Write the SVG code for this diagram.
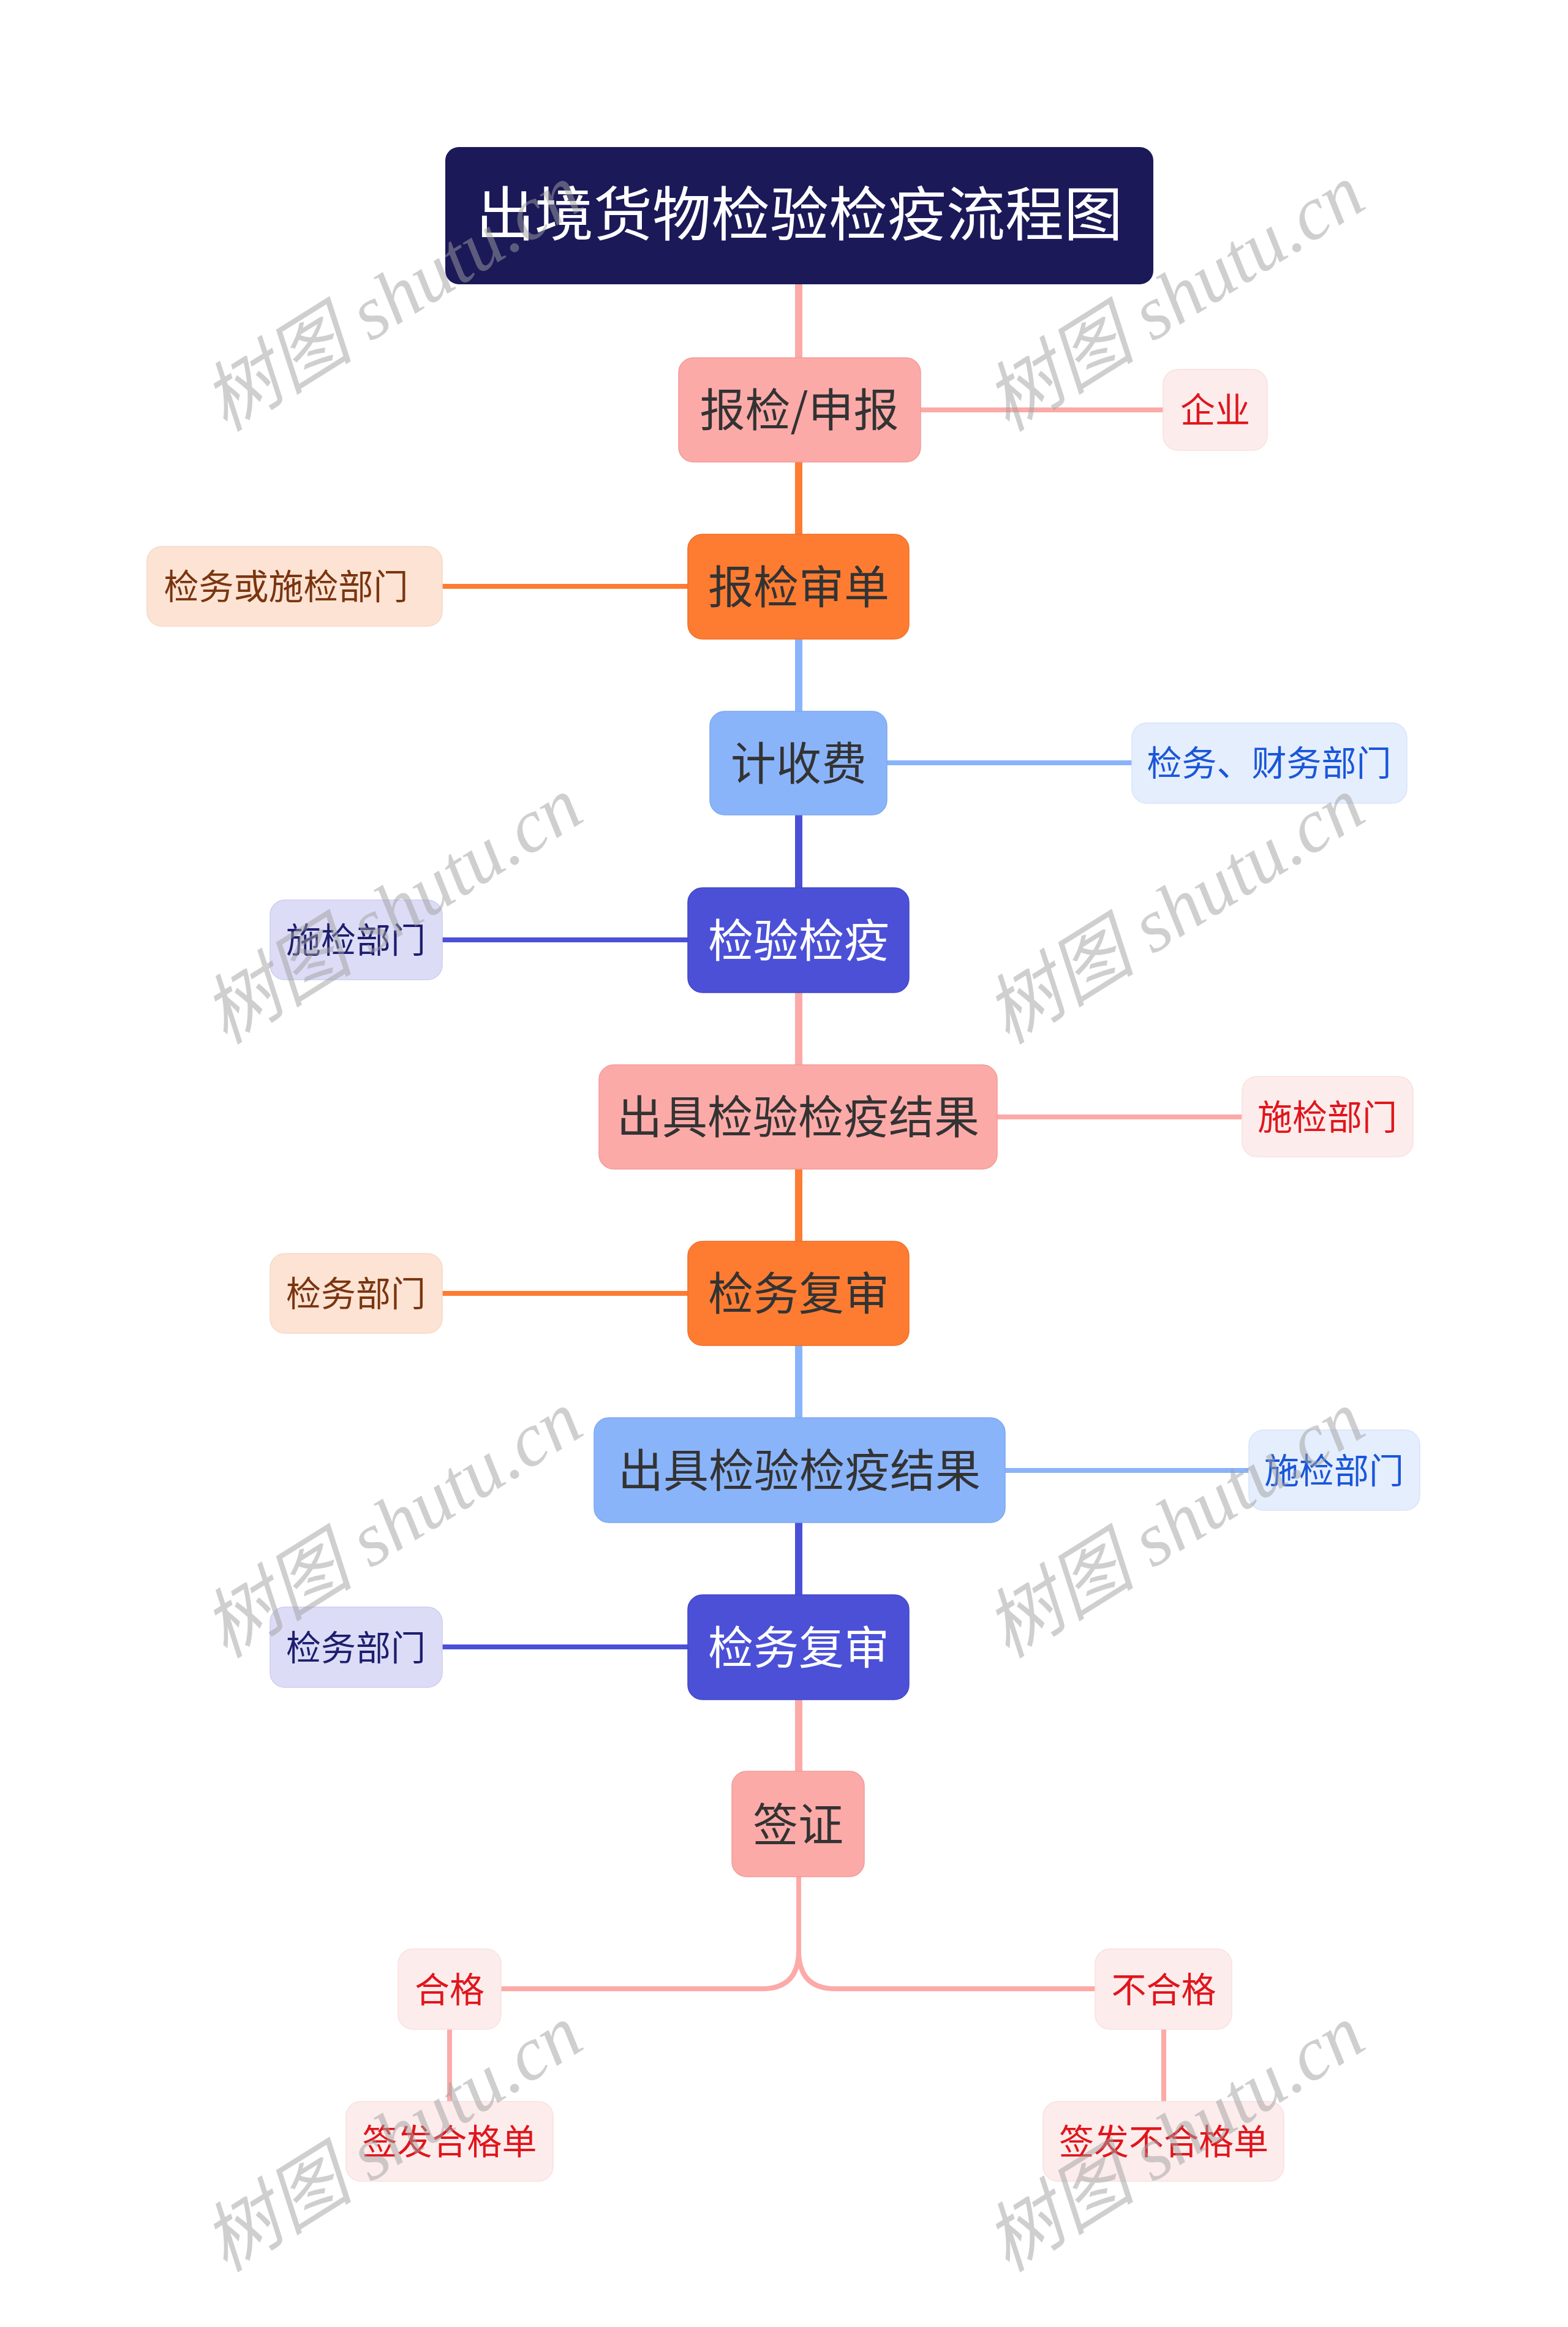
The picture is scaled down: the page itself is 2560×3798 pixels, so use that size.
<svg xmlns="http://www.w3.org/2000/svg" width="2560" height="3798" viewBox="0 0 2560 3798">
<style>
text{font-family:"Noto Sans CJK SC","Noto Sans",sans-serif;text-anchor:middle}
.t{font-size:74px;fill:#333333}
.tw{font-size:74px;fill:#ffffff}
.s{font-size:57px}
.red{fill:#e0161c}.brown{fill:#7a3510}.blue{fill:#1a56d8}.navy{fill:#1e1e6e}
.pk{fill:#fcaaa8;stroke:#f29a98;stroke-width:1.5}
.or{fill:#fd7c32;stroke:#f06e26;stroke-width:1.5}
.lb{fill:#8ab4fa;stroke:#7ea8f0;stroke-width:1.5}
.db{fill:#4b50d7;stroke:#4247c8;stroke-width:1.5}
.bpk{fill:#fdecec;stroke:#f9e0e0;stroke-width:1.5}
.bpe{fill:#fde3d3;stroke:#f8d8c6;stroke-width:1.5}
.bbl{fill:#e5eefd;stroke:#d8e4fa;stroke-width:1.5}
.bla{fill:#dcdcf7;stroke:#cdcdf0;stroke-width:1.5}
.c{fill:none;stroke-linecap:butt}
.sp{stroke-width:12}
.sd{stroke-width:8}
.cpk{stroke:#fcaaa8}.cor{stroke:#fd7c32}.clb{stroke:#8ab4fa}.cdb{stroke:#4b50d7}
.wm{font-family:"Liberation Serif","Noto Sans CJK SC",serif;font-style:italic;font-size:124px;fill:#a0a0a0;fill-opacity:0.5;text-anchor:start}
</style>
<rect width="2560" height="3798" fill="#ffffff"/>
<g id="connectors">
<path class="c sp cpk" d="M1304 462V585"/>
<path class="c sp cor" d="M1304 753V873"/>
<path class="c sp clb" d="M1304 1042V1162"/>
<path class="c sp cdb" d="M1304 1329V1450"/>
<path class="c sp cpk" d="M1304 1619V1739"/>
<path class="c sp cor" d="M1304 1907V2027"/>
<path class="c sp clb" d="M1304 2195V2315"/>
<path class="c sp cdb" d="M1304 2484V2604"/>
<path class="c sp cpk" d="M1304 2773V2892"/>
<path class="c sd cpk" d="M1502 669H1900"/>
<path class="c sd cor" d="M721 957H1124"/>
<path class="c sd clb" d="M1447 1245H1849"/>
<path class="c sd cdb" d="M721 1534H1124"/>
<path class="c sd cpk" d="M1627 1823H2029"/>
<path class="c sd cor" d="M721 2111H1124"/>
<path class="c sd clb" d="M1640 2400H2040"/>
<path class="c sd cdb" d="M721 2688H1124"/>
<path class="c sd cpk" d="M1304 3062V3184Q1304 3246 1244 3246H817"/>
<path class="c sd cpk" d="M1304 3184Q1304 3246 1364 3246H1789"/>
<path class="c sd cpk" d="M734 3311V3431"/>
<path class="c sd cpk" d="M1900 3311V3431"/>
</g>
<g id="title">
<rect x="727" y="240" width="1156" height="224" rx="22" fill="#1b1958"/>
<text x="1305" y="384" style="font-size:96px;fill:#ffffff">出境货物检验检疫流程图</text>
</g>
<g id="n1"><rect class="pk" x="1108" y="584" width="395" height="170" rx="24"/><text class="t" x="1305" y="696">报检/申报</text></g>
<g id="n1a"><rect class="bpk" x="1899" y="603" width="170" height="132" rx="24"/><text class="s red" x="1984" y="690">企业</text></g>
<g id="n2"><rect class="or" x="1123" y="872" width="361" height="171" rx="24"/><text class="t" x="1304" y="985">报检审单</text></g>
<g id="n2a"><rect class="bpe" x="240" y="892" width="482" height="130" rx="24"/><text class="s brown" x="467" y="978">检务或施检部门</text></g>
<g id="n3"><rect class="lb" x="1159" y="1161" width="289" height="169" rx="24"/><text class="t" x="1304" y="1273">计收费</text></g>
<g id="n3a"><rect class="bbl" x="1848" y="1180" width="449" height="131" rx="24"/><text class="s blue" x="2072" y="1266">检务、财务部门</text></g>
<g id="n4"><rect class="db" x="1123" y="1449" width="361" height="171" rx="24"/><text class="tw" x="1304" y="1562">检验检疫</text></g>
<g id="n4a"><rect class="bla" x="441" y="1469" width="281" height="130" rx="24"/><text class="s navy" x="581" y="1555">施检部门</text></g>
<g id="n5"><rect class="pk" x="978" y="1738" width="650" height="170" rx="24"/><text class="t" x="1303" y="1850">出具检验检疫结果</text></g>
<g id="n5a"><rect class="bpk" x="2028" y="1757" width="279" height="131" rx="24"/><text class="s red" x="2167" y="1844">施检部门</text></g>
<g id="n6"><rect class="or" x="1123" y="2026" width="361" height="170" rx="24"/><text class="t" x="1304" y="2138">检务复审</text></g>
<g id="n6a"><rect class="bpe" x="441" y="2046" width="281" height="130" rx="24"/><text class="s brown" x="581" y="2132">检务部门</text></g>
<g id="n7"><rect class="lb" x="970" y="2314" width="671" height="171" rx="24"/><text class="t" x="1305" y="2427">出具检验检疫结果</text></g>
<g id="n7a"><rect class="bbl" x="2039" y="2334" width="279" height="131" rx="24"/><text class="s blue" x="2178" y="2421">施检部门</text></g>
<g id="n8"><rect class="db" x="1123" y="2603" width="361" height="171" rx="24"/><text class="tw" x="1304" y="2716">检务复审</text></g>
<g id="n8a"><rect class="bla" x="441" y="2623" width="281" height="131" rx="24"/><text class="s navy" x="581" y="2710">检务部门</text></g>
<g id="n9"><rect class="pk" x="1195" y="2891" width="216" height="172" rx="24"/><text class="t" x="1303" y="3005">签证</text></g>
<g id="n10"><rect class="bpk" x="650" y="3181" width="168" height="131" rx="24"/><text class="s red" x="734" y="3268">合格</text></g>
<g id="n11"><rect class="bpk" x="1788" y="3181" width="223" height="131" rx="24"/><text class="s red" x="1900" y="3268">不合格</text></g>
<g id="n12"><rect class="bpk" x="565" y="3430" width="338" height="130" rx="24"/><text class="s red" x="734" y="3516">签发合格单</text></g>
<g id="n13"><rect class="bpk" x="1703" y="3430" width="393" height="130" rx="24"/><text class="s red" x="1900" y="3516">签发不合格单</text></g>
<g id="watermarks">
<text class="wm" transform="translate(368 706) rotate(-32)">树图 shutu.cn</text>
<text class="wm" transform="translate(1645 706) rotate(-32)">树图 shutu.cn</text>
<text class="wm" transform="translate(368 1706) rotate(-32)">树图 shutu.cn</text>
<text class="wm" transform="translate(1645 1706) rotate(-32)">树图 shutu.cn</text>
<text class="wm" transform="translate(368 2708) rotate(-32)">树图 shutu.cn</text>
<text class="wm" transform="translate(1645 2708) rotate(-32)">树图 shutu.cn</text>
<text class="wm" transform="translate(368 3710) rotate(-32)">树图 shutu.cn</text>
<text class="wm" transform="translate(1645 3710) rotate(-32)">树图 shutu.cn</text>
</g>
</svg>
